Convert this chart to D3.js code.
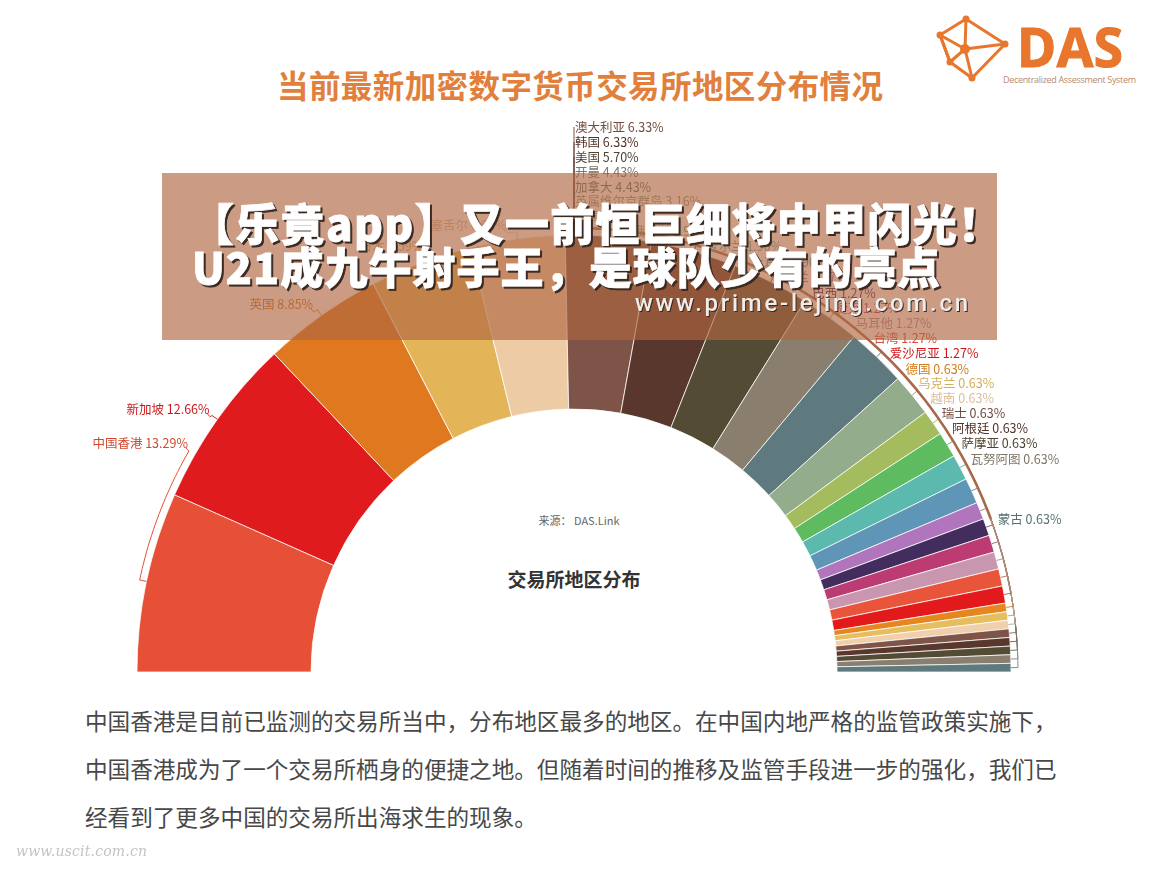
<!DOCTYPE html>
<html><head><meta charset="utf-8">
<script src="https://cdn.jsdelivr.net/npm/d3@7/dist/d3.min.js"></script>
<style>html,body{margin:0;padding:0;background:#fff;overflow:hidden}svg{display:block}text{font-family:"Noto Sans CJK SC","Noto Sans",sans-serif}</style>
</head><body><svg id="c" width="1159" height="869"></svg>
<script>
const regions = ["中国香港","新加坡","英国","日本","塞舌尔","澳大利亚","韩国","美国","开曼","加拿大","英属维尔京群岛","法国","俄罗斯","爱尔兰","土耳其","波兰","巴西","捷克","马耳他","台湾","爱沙尼亚","德国","乌克兰","越南","瑞士","阿根廷","萨摩亚","瓦努阿图","蒙古"];
const shares = [13.29,12.66,8.85,7.59,6.96,6.33,6.33,5.70,4.43,4.43,3.16,1.90,1.90,1.90,1.90,1.27,1.27,1.27,1.27,1.27,1.27,0.63,0.63,0.63,0.63,0.63,0.63,0.63,0.63];
const sliceColors = ["#E55036","#DF1B1D","#E07820","#E3B558","#EDCBA5","#7D5447","#5A372C","#544B35","#8A7F6E","#5F7A7E","#93AC8B","#A5BC5E","#5EBB60","#5BB9AE","#5F96B8","#B075BC","#432C5E","#BC3B73","#C996B0","#E9553A","#E31A1C","#E5861F","#E6BE60","#EFD0AA","#7D5447","#5A372C","#544B35","#8A7F6E","#5F7A7E"];
const labelRows = [443,409,304,246,225,127,142,157,172,187,201,216,231,246,262,277,293,308,323,338,353,369,383,398,413,428,443,459,519];
const titleText = "当前最新加密数字货币交易所地区分布情况";
const chartName = "交易所地区分布";
const sourceText = "来源： DAS.Link";
const bodyLines = ["中国香港是目前已监测的交易所当中，分布地区最多的地区。在中国内地严格的监管政策实施下，","中国香港成为了一个交易所栖身的便捷之地。但随着时间的推移及监管手段进一步的强化，我们已","经看到了更多中国的交易所出海求生的现象。"];
const bannerLines = ["【乐竟app】又一前恒巨细将中甲闪光！","U21成九牛射手王，是球队少有的亮点"];
const bannerUrl = "www.prime-lejing.com.cn";
const logoNodes = [[966,19],[1005,44],[972,78],[940,35],[965,49],[950,62]];
const logoEdges = [[0,1],[1,2],[2,5],[5,3],[3,0],[0,4],[4,2],[4,1],[4,3],[4,5],[3,5]];

const svg = d3.select("#c");
const cx = 574, cy = 672, rIn = 263, rOut = 437, rGuide = 444;
const defs = svg.append("defs");
defs.append("filter").attr("id","soft").append("feGaussianBlur").attr("stdDeviation",0.45);

// logo
const logo = svg.append("g").attr("stroke","#E8762C").attr("fill","#E8762C");
logo.selectAll("line").data(logoEdges).join("line")
  .attr("x1",d=>logoNodes[d[0]][0]).attr("y1",d=>logoNodes[d[0]][1])
  .attr("x2",d=>logoNodes[d[1]][0]).attr("y2",d=>logoNodes[d[1]][1]).attr("stroke-width",3);
logo.selectAll("circle").data(logoNodes).join("circle")
  .attr("cx",d=>d[0]).attr("cy",d=>d[1]).attr("r",(d,i)=>i===4?5:3.5).attr("stroke","none");
svg.append("text").attr("x",1017).attr("y",67).attr("font-size",53).attr("font-weight",700).attr("fill","#E8762C")
  .attr("stroke","#E8762C").attr("stroke-width",1.2)
  .style("font-family","'Open Sans','Noto Sans',sans-serif").attr("textLength",106).text("DAS");
svg.append("text").attr("x",1003).attr("y",83).attr("font-size",9).attr("fill","#B98A6C")
  .style("font-family","'Open Sans',sans-serif").attr("textLength",133).text("Decentralized Assessment System");

// title
svg.append("text").attr("x",277).attr("y",98).attr("font-size",31.5).attr("font-weight",700).attr("fill","#E17F3D")
  .attr("textLength",606).text(titleText);

// donut
const pie = d3.pie().sort(null).startAngle(-Math.PI/2).endAngle(Math.PI/2);
const slices = pie(shares);
const arc = d3.arc().innerRadius(rIn).outerRadius(rOut);
const chart = svg.append("g").attr("transform",`translate(${cx},${cy})`);
chart.selectAll("path.s").data(slices).join("path").attr("class","s")
  .attr("d",arc).attr("fill",(d,i)=>sliceColors[i])
  .attr("stroke","#fff").attr("stroke-opacity",.75).attr("stroke-width",1);

// leader lines + labels
const polar = (a,r)=>[r*Math.sin(a),-r*Math.cos(a)];
const line = d3.line();
const attachAngle = (row,left)=>{
  const h = Math.min(1,Math.abs(row-cy+(left?8:0))/rGuide);
  return (left?-1:1)*Math.acos(h);
};
const layout = slices.map((s,i)=>{
  const mid = (s.startAngle+s.endAngle)/2, left = mid<0;
  const rowY = labelRows[i]-cy+(left?8:0);
  const att = attachAngle(labelRows[i],left);
  const pts = [polar(mid,rOut),polar(mid,rGuide)];
  d3.range(1,25).forEach(k=>pts.push(polar(mid+(att-mid)*k/24,rGuide)));
  const last = pts[pts.length-1];
  pts.push(left?[last[0]-3,labelRows[i]-cy+5]:[last[0],labelRows[i]-cy]);
  return {i,pts,left,x:left?last[0]-1:(Math.abs(rowY)>=rGuide?1:last[0]+7),y:labelRows[i]-cy};
});
const guides = chart.append("g").attr("fill","none").attr("filter","url(#soft)");
guides.selectAll("path").data(layout.slice().reverse()).join("path")
  .attr("d",d=>line(d.pts))
  .attr("stroke",d=>d.i>=15?d3.interpolateRgb(sliceColors[d.i],"#999")(.55):sliceColors[d.i])
  .attr("stroke-width",1);
// where the leaders of the right-hand labels run together they read as one heavier band
const bundleTop = attachAngle(labelRows[11],false), bundleEnd = attachAngle(labelRows[28],false);
const lastLeader = (slices[20].startAngle+slices[20].endAngle)/2;
guides.append("path").attr("d",d3.arc().innerRadius(rGuide-1.3).outerRadius(rGuide+1.3).startAngle(bundleTop).endAngle(bundleEnd)()).attr("fill","#A8684A").attr("stroke","none");
guides.append("path").attr("d",d3.arc().innerRadius(rGuide-.8).outerRadius(rGuide+.8).startAngle(bundleEnd).endAngle(lastLeader)()).attr("fill","#A98A76").attr("stroke","none");
const labels = chart.append("g").attr("filter","url(#soft)");
labels.selectAll("text").data(layout).join("text")
  .attr("x",d=>d.x).attr("y",d=>d.y).attr("dy","0.36em").attr("font-size",12.5)
  .attr("text-anchor",d=>d.left?"end":"start")
  .attr("fill",d=>d3.color(sliceColors[d.i]).darker(.25))
  .text(d=>regions[d.i]+" "+shares[d.i].toFixed(2)+"%");

// centre
svg.append("text").attr("x",579).attr("y",525).attr("text-anchor","middle").attr("font-size",11).attr("fill","#666").text(sourceText);
svg.append("text").attr("x",574).attr("y",587).attr("text-anchor","middle").attr("font-size",19).attr("font-weight",700).attr("fill","#333").text(chartName);

// body
svg.append("g").selectAll("text").data(bodyLines).join("text")
  .attr("x",85).attr("y",(d,i)=>730+i*48).attr("font-size",22.6).attr("fill","#484848").attr("font-weight",400).text(d=>d);
svg.append("text").attr("x",16).attr("y",856).attr("font-size",14).attr("fill","#c4c4c4").attr("font-style","italic")
  .attr("textLength",131).attr("filter","url(#soft)").style("font-family","'DejaVu Serif',serif").text("www.uscit.com.cn");

// banner
svg.append("rect").attr("x",162).attr("y",173).attr("width",835).attr("height",167).attr("fill","rgb(175,101,65)").attr("fill-opacity",.65);
const shadow = svg.append("g").style("filter","drop-shadow(2px 2px 0 #3a2a22)");
shadow.append("text").attr("x",190).attr("y",241).attr("font-size",44).attr("font-weight",900).attr("fill","#fff")
  .attr("stroke","#fff").attr("stroke-width",.8).attr("textLength",812).text(bannerLines[0]);
shadow.append("text").attr("x",192).attr("y",284).attr("font-size",43).attr("font-weight",900).attr("fill","#fff")
  .attr("stroke","#fff").attr("stroke-width",.8).attr("textLength",748).text(bannerLines[1]);
svg.append("g").style("filter","drop-shadow(1px 1px 0 #3a2a22)").append("text")
  .attr("x",635).attr("y",311).attr("font-size",24).attr("font-weight",500).attr("fill","#f0ece8")
  .style("font-family","Roboto,sans-serif").attr("textLength",333).text(bannerUrl);
</script></body></html>
